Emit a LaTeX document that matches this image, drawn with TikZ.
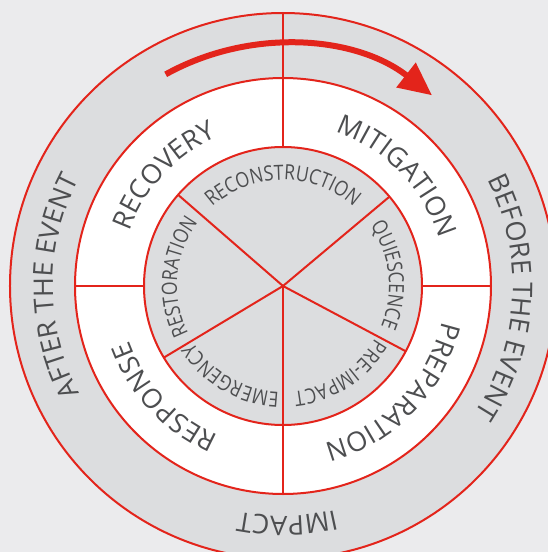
\documentclass[tikz,border=0pt]{standalone}
\usepackage{fontspec}
\setmainfont{Open Sans}
\newfontfamily\innerfam[FakeStretch=0.84]{Open Sans}
\usetikzlibrary{decorations.text,arrows.meta}
\definecolor{bg}{HTML}{EBEBED}
\definecolor{ringgray}{HTML}{DCDDDF}
\definecolor{cred}{HTML}{E3241B}
\definecolor{txt}{HTML}{4D4E50}
\newcommand{\outerfont}{\fontsize{27pt}{30pt}\selectfont}
\newcommand{\midfont}{\fontsize{27pt}{30pt}\selectfont}
\newcommand{\innerfont}{\innerfam\fontsize{21pt}{24pt}\selectfont}
\begin{document}
\begin{tikzpicture}[x=1pt,y=1pt,
  redline/.style={draw=cred, line width=2pt},
  ctext/.style={decorate, decoration={text along path, text align=center, text color=txt}}
]
\useasboundingbox (-283,-266) rectangle (265,286);
\fill[bg] (-283,-266) rectangle (265,286);
% rings
\coordinate (C) at (0,0);
\filldraw[fill=ringgray, redline] (C) circle[radius=273];
\filldraw[fill=white, redline] (C) circle[radius=208];
\filldraw[fill=ringgray, redline] (C) circle[radius=139];
% spokes
\foreach \a in {40,139,211,270,332} \draw[redline] (C) -- (\a:139);
% dividers
\draw[redline] (90:139) -- (90:273);
\draw[redline] (270:139) -- (270:208);
\draw[redline] (180:139) -- (180:208);
\draw[redline] (0:139) -- (0:208);
% arrow
\draw[cred, line width=6pt, -{Triangle[length=33pt,width=30pt]}] (119:242) arc[start angle=119, end angle=52, radius=242];
% outer texts
\path[ctext, decoration={text={|\outerfont|AFTER THE EVENT}}] (260:230) arc[start angle=260, end angle=100, radius=230];
\path[ctext, decoration={text={|\outerfont|BEFORE THE EVENT}}] (77:230) arc[start angle=77, end angle=-83, radius=230];
\path[ctext, decoration={text={|\outerfont|IMPACT}}] (-9:230) arc[start angle=-9, end angle=-169, radius=230];
% middle texts
\path[ctext, decoration={text={|\midfont|RECOVERY}}] (217:163) arc[start angle=217, end angle=57, radius=163];
\path[ctext, decoration={text={|\midfont|MITIGATION}}] (124:163) arc[start angle=124, end angle=-36, radius=163];
\path[ctext, decoration={text={|\midfont|PREPARATION}}] (36:163) arc[start angle=36, end angle=-124, radius=163];
\path[ctext, decoration={text={|\midfont|RESPONSE}}] (-57:163) arc[start angle=-57, end angle=-217, radius=163];
% inner texts
\path[ctext, decoration={text={|\innerfont|RECONSTRUCTION}}] (170:106) arc[start angle=170, end angle=10, radius=106];
\path[ctext, decoration={text={|\innerfont|QUIESCENCE}}] (86:106) arc[start angle=86, end angle=-74, radius=106];
\path[ctext, decoration={text={|\innerfont|PRE-IMPACT}}] (23:106) arc[start angle=23, end angle=-137, radius=106];
\path[ctext, decoration={text={|\innerfont|EMERGENCY}}] (-40:106) arc[start angle=-40, end angle=-200, radius=106];
\path[ctext, decoration={text={|\innerfont|RESTORATION}}] (255:106) arc[start angle=255, end angle=95, radius=106];
\end{tikzpicture}
\end{document}
